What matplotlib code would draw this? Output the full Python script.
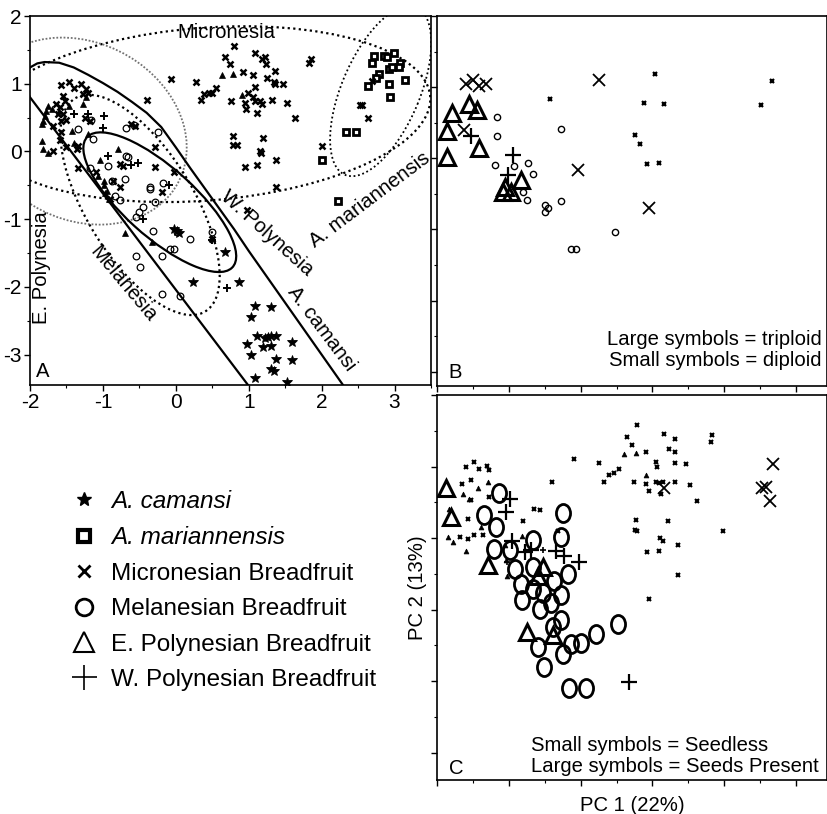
import numpy as np
import matplotlib
matplotlib.use('Agg')
import matplotlib.pyplot as plt
from matplotlib.patches import Ellipse
from matplotlib.lines import Line2D
from matplotlib.path import Path
from matplotlib.transforms import Affine2D
from matplotlib.ticker import MultipleLocator

plt.rcParams['font.family'] = ['Liberation Sans', 'DejaVu Sans']

# ---------------- Panel A data ----------------
A_cam_x = [0.24, 0.86, 1.08, 1.31, 1.03, 1.12, 1.22, 1.27, 1.31, 1.37, 1.20, 1.31, 0.97, 1.59, 1.03,
           1.38, 1.60, 1.31, 1.34, 1.09, 1.53, 0.01, 0.67, -0.02, 0.05]
A_cam_y = [-1.93, -1.93, -2.29, -2.30, -2.44, -2.72, -2.76, -2.74, -2.72, -2.72, -2.89, -2.87, -2.85, -2.82, -3.01,
           -3.06, -3.08, -3.21, -3.25, -3.34, -3.41, -1.17, -1.49, -1.15, -1.20]
A_mar_x = [2.72, 2.69, 2.85, 2.90, 2.99, 2.92, 2.96, 3.07, 3.06, 2.79, 2.74, 2.64, 2.92, 3.14, 2.94, 2.33, 2.47, 2.00, 2.22]
A_mar_y = [1.41, 1.30, 1.41, 1.39, 1.45, 1.22, 1.24, 1.31, 1.25, 1.15, 1.08, 0.97, 0.99, 1.05, 0.80, 0.28, 0.29, -0.13, -0.73]
A_mic_x = [0.80, 0.67, 0.74, 1.08, 1.18, 1.22, 1.24, 1.36, 1.34, 1.36, 1.47, 0.92, 1.06, 1.25, -0.07, 0.27, 0.34, 0.39,
           0.45, 0.49, 0.55, 0.76, 0.95, 0.96, 0.99, 1.06, 1.09, 1.15, 1.18, 1.11, 1.08, 1.32, 1.52, 1.63, 0.79, 0.79,
           0.84, 1.20, 1.15, 1.17, 0.95, 1.11, 1.37, 1.37, 1.86, 1.82, 2.69, 2.55, 2.53, 2.64, 2.01, 0.97,
           -1.58, -1.46, -1.39, -1.30, -1.23, -1.27, -1.20, -1.55, -1.52, -1.64, -1.59, -1.62, -1.57, -1.55, -1.50,
           -1.68, -1.57, -1.59, -1.68, -1.50, -1.36, -1.34, -1.25, -1.18, -0.40, -0.61, -0.56, -0.29, -1.34, -0.77,
           -0.72, -0.86, -0.77, -0.29, -0.03, -0.19, 0.49, -1.10, -0.90]
A_mic_y = [1.56, 1.40, 1.29, 1.45, 1.36, 1.39, 1.29, 1.19, 1.02, 0.99, 1.00, 1.18, 1.13, 1.09, 1.07, 1.02, 0.76, 0.85,
           0.87, 0.86, 0.93, 0.74, 0.72, 0.62, 0.87, 0.80, 0.74, 0.74, 0.70, 0.57, 0.95, 0.76, 0.71, 0.49, 0.23, 0.10,
           0.10, 0.20, 0.00, -0.03, -0.23, -0.20, -0.12, -0.53, 1.36, 1.30, 1.04, 0.69, 0.69, 0.50, 0.08, -0.87,
           0.98, 1.02, 0.94, 0.99, 0.92, 0.85, 0.86, 0.82, 0.75, 0.70, 0.65, 0.55, 0.45, 0.55, 0.46,
           0.38, 0.28, 0.17, 0.01, 0.06, 0.03, 0.08, 0.50, 0.45, 0.76, 0.40, 0.38, 0.06, -0.24, -0.18,
           -0.22, -0.43, -0.52, -0.23, -0.30, -0.60, -1.29, -0.30, -0.70]
A_mel_x = [-1.16, -1.34, -0.68, -0.24, -1.18, -0.93, -0.68, -0.88, -0.70, -0.36, -0.84, -1.13, -0.65, -0.35, -0.17,
           -0.58, -0.45, -0.54, -0.29, -0.31, -0.08, -0.03, -0.19, 0.19, -0.54, -0.49, -0.19, 0.06, 0.49, -0.77,
           -0.50, 0.01]
A_mel_y = [0.46, 0.33, 0.35, 0.28, -0.24, -0.21, -0.07, -0.44, -0.41, -0.53, -0.66, 0.19, -0.08, -0.55, -0.47,
           0.39, -0.82, -0.97, -0.75, -1.17, -1.44, -1.44, -1.54, -1.29, -1.54, -1.71, -2.10, -2.13, -1.19, -0.72,
           -0.90, -1.19]
A_epo_x = [-1.75, -1.78, -1.80, -1.82, -1.84, -1.84, -1.82, -1.75, -1.46, -1.43, -1.27, -1.23, -1.39, -0.79, -1.07,
           -0.95, -1.04, -0.99, -0.99, -0.70, -0.33, -0.97, -0.92, 0.64, 0.79, 0.91, -1.70, -1.60, -1.20]
A_epo_y = [0.67, 0.60, 0.53, 0.45, 0.40, 0.16, 0.03, -0.02, 0.67, 0.30, 0.70, 0.80, 0.12, 0.03, -0.36,
           -0.58, -0.13, -0.43, -0.50, -1.21, -1.34, -0.62, -0.70, 1.13, 1.14, 0.84, 0.62, 0.60, 0.25]
A_wpo_x = [-0.98, -0.93, -0.52, -1.20, 0.70, -0.62, 0.49, -1.00, -1.40, -0.45, -0.10]
A_wpo_y = [0.53, -0.07, -0.17, 0.55, -2.01, -0.20, -1.31, 0.35, 0.55, -1.00, -0.50]

# A. camansi outline
cam_line_x = [0.99, -2.00, -2.12, -2.00, -1.90, -1.80, -1.60, -1.40, -1.20, -1.00, -0.80, -0.60, -0.40, -0.20,
              0.00, 0.20, 0.40, 0.60, 0.80, 1.00, 2.28, 2.40]
cam_line_y = [-3.45, 0.80, 1.05, 1.24, 1.30, 1.32, 1.31, 1.24, 1.13, 1.01, 0.88, 0.73, 0.57, 0.36,
              0.06, -0.25, -0.55, -0.85, -1.15, -1.47, -3.43, -3.62]

# ---------------- Panel B data ----------------
B_mic_big_x = [-1.60, -1.50, -1.41, -1.32, 0.25, -0.03, 0.95, -1.62]
B_mic_big_y = [1.05, 1.10, 1.02, 1.05, 1.10, -0.16, -0.70, 0.40]
B_mic_sm_x = [-0.42, 1.04, 0.88, 1.16, 0.76, 0.82, 0.93, 1.09, 2.51, 2.66]
B_mic_sm_y = [0.83, 1.19, 0.78, 0.77, 0.33, 0.20, -0.08, -0.06, 0.75, 1.09]
B_epo_big_x = [-1.79, -1.56, -1.44, -1.86, -1.86, -1.41, -0.83, -1.06, -0.97, -1.08]
B_epo_big_y = [0.63, 0.77, 0.68, 0.38, 0.02, 0.14, -0.30, -0.40, -0.47, -0.47]
B_wpo_big_x = [-1.53, -0.94, -1.01]
B_wpo_big_y = [0.31, 0.05, -0.23]
B_mel_sm_x = [-1.17, -1.17, -0.28, -1.19, -0.93, -0.73, -0.66, -0.80, -0.74, -0.50, -0.45, -0.49, -0.28, 0.48, -0.13, -0.06]
B_mel_sm_y = [0.58, 0.31, 0.41, -0.09, -0.11, -0.06, -0.22, -0.47, -0.59, -0.65, -0.70, -0.76, -0.60, -1.03, -1.28, -1.28]

# ---------------- Panel C data ----------------
C_mel_big_x = [-1.13, -1.34, -1.18, -1.20, -0.99, -0.67, -0.25, -0.27, -0.92, -0.83, -0.67, -0.67, -0.81, -0.53, -0.37,
               -0.18, -0.27, -0.41, -0.57, -0.27, -0.39, -0.60, -0.25, -0.13, 0.01, 0.21, 0.52, -0.51, -0.16, 0.08]
C_mel_big_y = [0.63, 0.33, 0.16, -0.15, -0.17, -0.02, 0.35, 0.01, -0.43, -0.64, -0.41, -0.71, -0.87, -0.76, -0.60,
               -0.50, -0.80, -0.90, -0.99, -1.15, -1.24, -1.52, -1.62, -1.48, -1.46, -1.34, -1.20, -1.80, -2.10, -2.10]
C_epo_big_x = [-1.87, -1.80, -1.29, -0.53, -0.60, -0.74, -0.39]
C_epo_big_y = [0.70, 0.29, -0.38, -0.41, -0.53, -1.31, -1.36]
C_wpo_big_x = [-0.99, -1.04, -0.95, -0.78, -0.69, -0.34, -0.23, -0.02, 0.67]
C_wpo_big_y = [0.54, 0.36, -0.04, -0.19, -0.16, -0.18, -0.25, -0.34, -2.01]
C_mic_big_x = [2.68, 2.53, 2.58, 2.63, 1.16]
C_mic_big_y = [1.03, 0.70, 0.72, 0.52, 0.70]
C_mic_sm_x = [-1.60, -1.48, -1.41, -1.30, -1.28, -1.65, -1.53, -1.53, -1.57, -1.68, -1.57, -1.48, -1.36, -1.27, -0.65,
              -0.56, -0.80, -0.40, -0.09, 0.25, 0.33, 0.39, 0.47, 0.53, -0.32,
              0.79, 0.65, 0.72, 0.91, 1.05, 1.16, 1.23, 1.32, 1.32, 1.32, 1.46, 1.83, 1.81, 0.74, 0.91, 0.95, 1.05,
              1.09, 1.15, 1.07, 1.12, 1.32, 1.52, 1.62, 0.77, 0.79, 0.76, 1.21, 1.10, 1.14, 0.93, 1.09, 1.36, 1.36,
              0.95, 1.98]
C_mic_sm_y = [1.00, 1.06, 0.96, 1.01, 0.95, 0.75, 0.81, 0.53, 0.27, 0.02, -0.01, 0.05, 0.05, 0.57, 0.41,
              0.39, 0.24, 0.78, 1.10, 1.05, 0.79, 0.88, 0.91, 0.96, 0.10,
              1.58, 1.42, 1.30, 1.21, 1.07, 1.46, 1.24, 1.39, 1.21, 1.05, 1.03, 1.44, 1.34, 0.78, 0.75, 0.66, 0.79,
              0.77, 0.78, 1.00, 0.61, 0.79, 0.74, 0.52, 0.26, 0.10, 0.11, 0.24, 0.00, -0.04, -0.20, -0.18, -0.10, -0.52,
              -0.85, 0.10]
C_epo_sm_x = [-1.43, -1.29, -1.83, -1.85, -1.78, -1.59, -1.06, -1.39, -1.64, -1.55, -1.04, -1.02, -0.81, 0.60, 0.77, 0.91]
C_epo_sm_y = [0.70, 0.78, 0.40, 0.01, -0.06, -0.18, -0.10, 0.15, 0.61, 0.55, -0.31, -0.53, 0.03, 1.17, 1.19, 0.88]
C_wpo_sm_x = [-0.53, -1.02]
C_wpo_sm_y = [-0.17, -0.33]

legend_labels = ['A. camansi', 'A. mariannensis', 'Micronesian Breadfruit', 'Melanesian Breadfruit',
                 'E. Polynesian Breadfruit', 'W. Polynesian Breadfruit']

W, H = 828, 814
fig = plt.figure(figsize=(W / 100, H / 100), dpi=100)


def rect(l, t, r, b):
    return [l / W, 1 - b / H, (r - l) / W, (b - t) / H]


axA = fig.add_axes(rect(30, 16, 431, 385))
axB = fig.add_axes(rect(437, 16, 827, 386))
axC = fig.add_axes(rect(437, 395, 827, 780))

oval = Path.unit_circle().transformed(Affine2D().scale(0.78, 1.0))

for ax in (axA, axB, axC):
    for s in ax.spines.values():
        s.set_linewidth(1.2)
    ax.xaxis.set_major_locator(MultipleLocator(1))
    ax.yaxis.set_major_locator(MultipleLocator(1))
    ax.xaxis.set_minor_locator(MultipleLocator(0.5))
    ax.yaxis.set_minor_locator(MultipleLocator(0.5))
    ax.tick_params(which='major', direction='out', length=4, width=1)
    ax.tick_params(which='minor', direction='out', length=2, width=0.8)

axA.set_xlim(-2, 3.5)
axA.set_ylim(-3.45, 2)
axA.tick_params(labelsize=15, pad=2)
axA.set_xticks([-2, -1, 0, 1, 2, 3])
axA.set_xticklabels(['-2', '-1', '0', '1', '2', '3'])
axA.set_yticks([-3, -2, -1, 0, 1, 2])
axA.set_yticklabels(['-3', '-2', '-1', '0', '1', '2'])

for ax in (axB, axC):
    ax.set_xlim(-2, 3.43)
    ax.tick_params(labelbottom=False, labelleft=False)
axB.set_ylim(-3.2, 2)
axC.set_ylim(-3.38, 2)

# ---- Panel A scatter
k = dict(linestyle='none', color='black', zorder=3)
axA.plot(A_cam_x, A_cam_y, marker='*', ms=7.5, mew=0.6, **k)
axA.plot(A_mar_x, A_mar_y, marker='s', ms=5, mew=2.0, mfc='white', mec='black', linestyle='none', zorder=3)
axA.plot(A_mic_x, A_mic_y, marker='x', ms=4.8, mew=1.8, **k)
axA.plot(A_mel_x, A_mel_y, marker='o', ms=4.8, mew=0.9, mfc='none', mec='black', linestyle='none', zorder=3)
axA.plot(A_epo_x, A_epo_y, marker='^', ms=4.5, mew=0.5, **k)
axA.plot(A_wpo_x, A_wpo_y, marker='+', ms=5.5, mew=1.4, **k)

# ---- Panel A region outlines
clip = axA.patch


def ell(c, w, h, a, **kw):
    e = Ellipse(c, w, h, angle=a, fill=False, **kw)
    axA.add_patch(e)
    e.set_clip_path(clip)
    return e


dots = (0, (1.0, 1.5))
ell((0.4, 0.55), 6.2, 2.55, 5, lw=1.6, ls=dots, ec='black')               # Micronesia
ell((2.81, 0.89), 2.66, 1.08, 69.0, lw=1.3, ls=dots, ec='black')          # A. mariannensis
ell((-1.30, 0.30), 3.08, 2.56, -37.3, lw=1.3, ls=(0, (1, 1)), ec='0.45')  # E. Polynesia
ell((-0.49, -0.79), 3.62, 1.50, -61.2, lw=1.6, ls=dots, ec='black')       # Melanesia
ell((-0.22, -0.75), 2.77, 0.99, -44.4, lw=1.6, ec='black')                # W. Polynesia
axA.plot(cam_line_x, cam_line_y, color='black', lw=1.6, solid_joinstyle='round', zorder=2)  # A. camansi

# ---- Panel A labels
fs = 14.6
axA.text(0.70, 1.75, 'Micronesia', fontsize=fs, ha='center', va='center')
axA.text(-1.84, -1.71, 'E. Polynesia', fontsize=fs, ha='center', va='center', rotation=90)
axA.text(-0.72, -1.95, 'Melanesia', fontsize=fs, ha='center', va='center', rotation=-50, rotation_mode='anchor')
axA.text(1.25, -1.21, 'W. Polynesia', fontsize=fs, ha='center', va='center', rotation=-42, rotation_mode='anchor')
axA.text(2.0, -2.62, 'A. camansi', fontsize=fs, ha='center', va='center', rotation=-53, rotation_mode='anchor')
axA.text(2.66, -0.71, 'A. mariannensis', fontsize=fs, ha='center', va='center', rotation=37, rotation_mode='anchor')
axA.text(0.015, 0.012, 'A', transform=axA.transAxes, fontsize=fs, ha='left', va='bottom')

# ---- Panel B
axB.plot(B_mic_big_x, B_mic_big_y, marker='x', ms=9, mew=1.3, **k)
axB.plot(B_mic_sm_x, B_mic_sm_y, marker='x', ms=3.5, mew=1.6, **k)
axB.plot(B_epo_big_x, B_epo_big_y, marker='^', ms=12, mew=2.2, mfc='none', mec='black', linestyle='none', zorder=3)
axB.plot(B_wpo_big_x, B_wpo_big_y, marker='+', ms=11, mew=1.6, **k)
axB.plot(B_mel_sm_x, B_mel_sm_y, marker='o', ms=4.5, mew=1.0, mfc='none', mec='black', linestyle='none', zorder=3)
axB.text(0.987, 0.125, 'Large symbols = triploid', transform=axB.transAxes, fontsize=fs, ha='right', va='center')
axB.text(0.987, 0.068, 'Small symbols = diploid', transform=axB.transAxes, fontsize=fs, ha='right', va='center')
axB.text(0.03, 0.012, 'B', transform=axB.transAxes, fontsize=fs, ha='left', va='bottom')

# ---- Panel C
axC.plot(C_mic_sm_x, C_mic_sm_y, marker='x', ms=3.2, mew=1.5, **k)
axC.plot(C_epo_sm_x, C_epo_sm_y, marker='^', ms=3.5, mew=0.5, **k)
axC.plot(C_wpo_sm_x, C_wpo_sm_y, marker='+', ms=4, mew=1.2, **k)
axC.plot(C_mel_big_x, C_mel_big_y, marker=oval, ms=13, mew=2.0, mfc='none', mec='black', linestyle='none', zorder=3)
axC.plot(C_epo_big_x, C_epo_big_y, marker='^', ms=12, mew=2.2, mfc='none', mec='black', linestyle='none', zorder=3)
axC.plot(C_wpo_big_x, C_wpo_big_y, marker='+', ms=11, mew=1.6, **k)
axC.plot(C_mic_big_x, C_mic_big_y, marker='x', ms=9, mew=1.3, **k)
axC.text(0.24, 0.09, 'Small symbols = Seedless', transform=axC.transAxes, fontsize=fs, ha='left', va='center')
axC.text(0.24, 0.035, 'Large symbols = Seeds Present', transform=axC.transAxes, fontsize=fs, ha='left', va='center')
axC.text(0.03, 0.005, 'C', transform=axC.transAxes, fontsize=fs, ha='left', va='bottom')
axC.set_xlabel('PC 1 (22%)', fontsize=fs, labelpad=6)
axC.set_ylabel('PC 2 (13%)', fontsize=fs, labelpad=2)

# ---- Legend
handles = [
    Line2D([], [], linestyle='none', marker='*', ms=10, color='black'),
    Line2D([], [], linestyle='none', marker='s', ms=9, mew=3, mfc='white', mec='black'),
    Line2D([], [], linestyle='none', marker='x', ms=8, mew=2, color='black'),
    Line2D([], [], linestyle='none', marker='o', ms=12, mew=2, mfc='none', mec='black'),
    Line2D([], [], linestyle='none', marker='^', ms=15, mew=1.5, mfc='none', mec='black'),
    Line2D([], [], linestyle='none', marker='+', ms=18, mew=1.2, color='black'),
]
leg = fig.legend(handles, legend_labels, loc='upper left', bbox_to_anchor=(72 / W, 1 - 490 / H),
                 frameon=False, fontsize=17.5, handlelength=1.0, handletextpad=0.6, labelspacing=0.55,
                 borderaxespad=0, borderpad=0)
for t in leg.get_texts()[:2]:
    t.set_fontstyle('italic')

fig.savefig('out.png', dpi=100)
